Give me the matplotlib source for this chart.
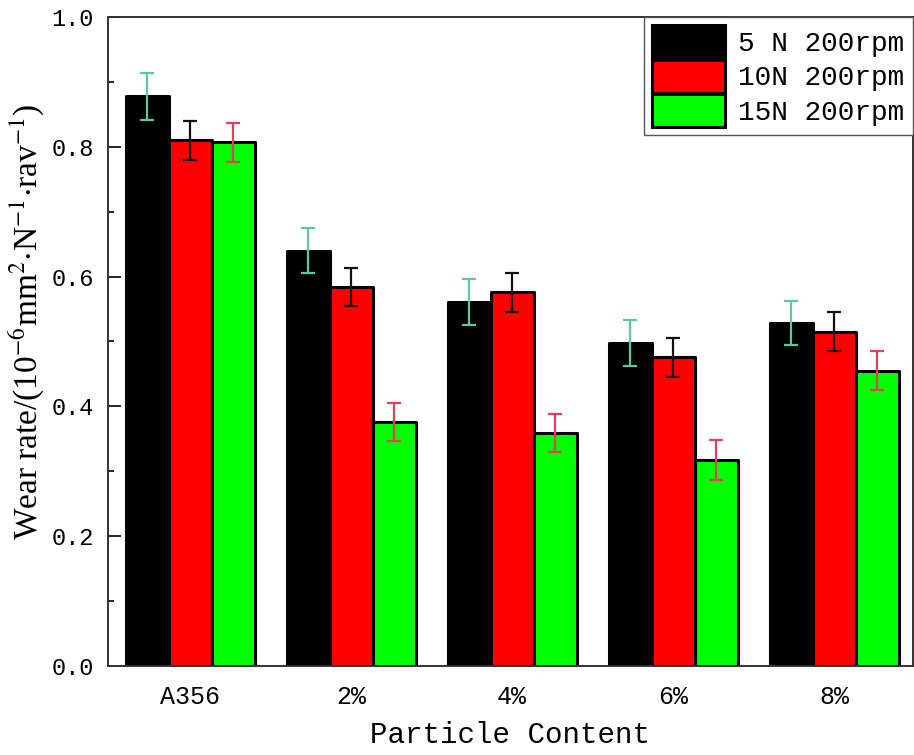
import matplotlib

matplotlib.use("Agg")
import matplotlib.pyplot as plt
import numpy as np
from matplotlib.ticker import MultipleLocator, FormatStrFormatter

# wear rate (10^-6 mm^2 N^-1 rav^-1) per particle content, three loads at 200 rpm
categories = ["A356", "2%", "4%", "6%", "8%"]
series_labels = ["5 N 200rpm", "10N 200rpm", "15N 200rpm"]
rate_5n = [0.878, 0.640, 0.561, 0.498, 0.528]
rate_10n = [0.810, 0.584, 0.576, 0.476, 0.515]
rate_15n = [0.807, 0.376, 0.359, 0.317, 0.455]
err_5n = [0.036, 0.035, 0.035, 0.035, 0.034]
err_10n = [0.030, 0.030, 0.030, 0.030, 0.030]
err_15n = [0.030, 0.030, 0.030, 0.031, 0.030]

plt.rcParams["mathtext.fontset"] = "stix"
MONO = "Liberation Mono"
SERIF = "Liberation Serif"

fig = plt.figure(figsize=(9.14, 7.55), dpi=100)
ax = fig.add_axes([108 / 914, 89 / 755, 805 / 914, 649 / 755])

x = np.arange(len(categories))
width = 0.267
series = [
    (rate_5n, err_5n, -width, "#000000", "#5ec99a"),
    (rate_10n, err_10n, 0.0, "#ff0000", "#111111"),
    (rate_15n, err_15n, width, "#00ff00", "#e0405a"),
]

for (vals, errs, off, fc, ec), label in zip(series, series_labels):
    ax.bar(x + off, vals, width, color=fc, edgecolor="black", linewidth=2.2,
           joinstyle="round", label=label, zorder=2)
    ax.errorbar(x + off, vals, yerr=errs, fmt="none", ecolor=ec,
                elinewidth=1.6, capsize=5, capthick=1.6, zorder=3)

ax.set_xlim(-0.51, 4.49)
ax.set_ylim(0, 1.0)
ax.set_xticks(x)
ax.set_xticklabels(categories, family=MONO, fontsize=18)
ax.yaxis.set_major_locator(MultipleLocator(0.2))
ax.yaxis.set_minor_locator(MultipleLocator(0.1))
ax.yaxis.set_major_formatter(FormatStrFormatter("%.1f"))
for t in ax.get_yticklabels():
    t.set_family(MONO)
    t.set_fontsize(17)

ax.tick_params(axis="both", which="major", direction="in", length=9, width=1.2, pad=10)
ax.tick_params(axis="y", which="minor", direction="in", length=4, width=1.2)
ax.tick_params(axis="x", which="major", pad=14)
for s in ax.spines.values():
    s.set_linewidth(1.4)
    s.set_color("#333333")

ax.set_xlabel("Particle Content", family=MONO, fontsize=21, labelpad=8)
ax.set_ylabel(r"Wear rate/(10$^{-6}$mm$^{2}$$\cdot$N$^{-1}$$\cdot$rav$^{-1}$)",
              family=SERIF, fontsize=24)
ax.yaxis.set_label_coords(-0.074, 0.53)

leg = ax.legend(loc="upper right", borderaxespad=0, fancybox=False, framealpha=1,
                edgecolor="#555555", prop={"family": MONO, "size": 20},
                handlelength=2.6, handleheight=1.45, labelspacing=0.05,
                borderpad=0.3, handletextpad=0.5)
leg.get_frame().set_linewidth(1.0)

fig.savefig("out.png", dpi=100)
